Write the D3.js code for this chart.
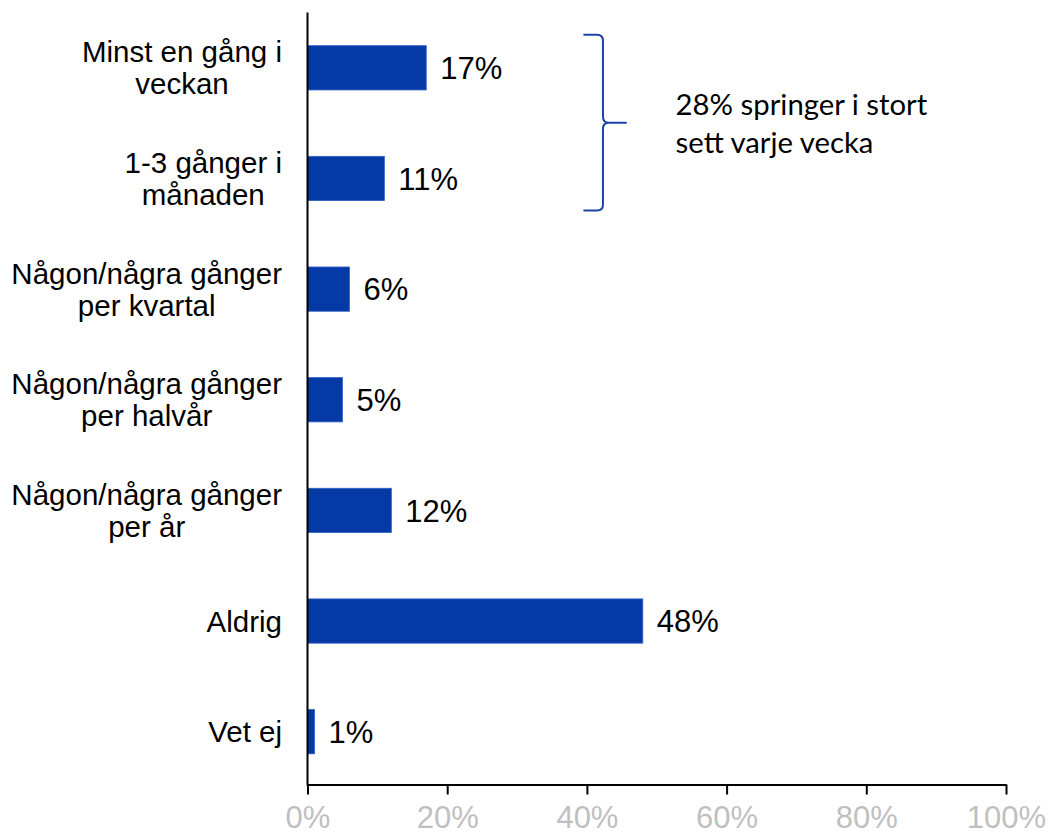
<!DOCTYPE html>
<html>
<head>
<meta charset="utf-8">
<script src="https://cdn.jsdelivr.net/npm/d3@7/dist/d3.min.js"></script>
<style>
  html, body { margin: 0; padding: 0; background: #fff; }
  svg { display: block; }
</style>
</head>
<body>
<svg id="chart" width="1050" height="835"></svg>
<script>
// How often people go running
const categories = [
  ["Minst en gång i", "veckan"],
  ["1-3 gånger i", "månaden"],
  ["Någon/några gånger", "per kvartal"],
  ["Någon/några gånger", "per halvår"],
  ["Någon/några gånger", "per år"],
  ["Aldrig"],
  ["Vet ej"]
];
const values = [17, 11, 6, 5, 12, 48, 1];
const xTicks = [0, 20, 40, 60, 80, 100];
const noteLines = ["28% springer i stort", "sett varje vecka"];

const svg = d3.select("#chart");
const plotLeft = 307.5, plotRight = 1006, plotTop = 12.5, plotBottom = 787, axisY = 784.5;
const barColor = "#0539A6";
const font = "Arial, 'Liberation Sans', sans-serif";

const x = d3.scaleLinear().domain([0, 100]).range([plotLeft, plotRight]);
const keys = categories.map((c, i) => i);
const y = d3.scaleBand().domain(keys).range([plotTop, plotBottom])
  .paddingInner(0.6).paddingOuter(0.3);

// Bars
svg.append("g").selectAll("rect").data(values).join("rect")
  .attr("x", x(0))
  .attr("y", (d, i) => y(i))
  .attr("width", d => x(d) - x(0))
  .attr("height", y.bandwidth())
  .attr("fill", barColor)
  .attr("stroke", "#2F5EC2")
  .attr("stroke-width", 0.8);

// Value labels
svg.append("g").selectAll("text").data(values).join("text")
  .attr("x", d => x(d) + 14)
  .attr("y", (d, i) => y(i) + y.bandwidth() / 2)
  .attr("dy", "0.36em")
  .attr("font-family", font)
  .attr("font-size", 31)
  .attr("fill", "#000")
  .text(d => d + "%");

// Category labels: block right-aligned to the axis, lines centred within the block
const labelRight = plotLeft - 25.5;
const lineGap = 32;
const catG = svg.append("g");
categories.forEach((lines, i) => {
  const cy = y(i) + y.bandwidth() / 2;
  const t = catG.append("text")
    .attr("font-family", font)
    .attr("font-size", 29.5)
    .attr("fill", "#000")
    .attr("text-anchor", "middle");
  const spans = lines.map((ln, j) => t.append("tspan")
    .attr("y", cy + (j - (lines.length - 1) / 2) * lineGap)
    .attr("dy", "0.36em")
    .text(ln));
  const w = d3.max(spans, s => s.node().getComputedTextLength());
  spans.forEach(s => s.attr("x", labelRight - w / 2));
});

// Axes
const xAxis = d3.axisBottom(x).tickValues(xTicks).tickFormat(d => d + "%")
  .tickSize(10).tickSizeOuter(0).tickPadding(11.5);
const gx = svg.append("g").attr("transform", `translate(0,${axisY})`).call(xAxis);
gx.select(".domain").attr("stroke", "#000").attr("stroke-width", 2);
gx.selectAll(".tick line").attr("stroke", "#000").attr("stroke-width", 2);
gx.selectAll(".tick text")
  .attr("font-family", font).attr("font-size", 31).attr("fill", "#BFBFBF");

svg.append("line")
  .attr("x1", plotLeft).attr("x2", plotLeft)
  .attr("y1", plotTop).attr("y2", axisY + 1)
  .attr("stroke", "#000").attr("stroke-width", 2);

// Curly brace grouping the first two categories
const bTop = y(0) - 11, bBot = y(1) + y.bandwidth() + 10;
const bMid = (bTop + bBot) / 2;
const bx0 = x(39.5), bx1 = x(42.3), tip = x(45.7);
const r = 6;
const brace = [
  `M${bx0},${bTop}`,
  `L${bx1 - r},${bTop}`,
  `Q${bx1},${bTop} ${bx1},${bTop + r}`,
  `L${bx1},${bMid - r}`,
  `Q${bx1},${bMid} ${bx1 + r},${bMid}`,
  `L${tip},${bMid}`,
  `M${bx1 + r},${bMid}`,
  `Q${bx1},${bMid} ${bx1},${bMid + r}`,
  `L${bx1},${bBot - r}`,
  `Q${bx1},${bBot} ${bx1 - r},${bBot}`,
  `L${bx0},${bBot}`
].join(" ");
svg.append("path")
  .attr("d", brace)
  .attr("fill", "none")
  .attr("stroke", "#1E43A8")
  .attr("stroke-width", 2);

// Note beside the brace
const note = svg.append("text")
  .attr("font-family", "Lato, 'Open Sans', sans-serif")
  .attr("font-size", 29.3)
  .attr("fill", "#000");
noteLines.forEach((ln, j) => note.append("tspan")
  .attr("x", x(52.7))
  .attr("y", 115 + j * 38)
  .text(ln));
</script>
</body>
</html>
